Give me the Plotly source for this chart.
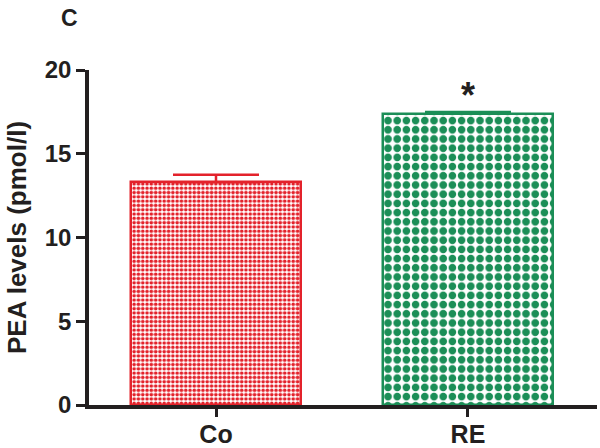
import plotly.graph_objects as go

groups = ["Co", "RE"]
pea_mean = [13.3, 17.4]
pea_err = [0.45, 0.1]
bar_colors = ["#e3222b", "#1b8e57"]
pattern_sizes = [4.3, 9.2]
signif = ["", "*"]

ink = "#231f20"
fam = "Arial, Liberation Sans"

fig = go.Figure()
for i, g in enumerate(groups):
    fig.add_trace(go.Bar(
        x=[g], y=[pea_mean[i]],
        width=0.675,
        marker=dict(
            color="white",
            line=dict(color=bar_colors[i], width=2.5),
            pattern=dict(shape=".", size=pattern_sizes[i], solidity=0.55,
                         fgcolor=bar_colors[i], bgcolor="white", fillmode="replace"),
        ),
        error_y=dict(type="data", symmetric=False, array=[pea_err[i]], arrayminus=[0],
                     color=bar_colors[i], thickness=2.5, width=43),
        showlegend=False,
    ))
    if signif[i]:
        fig.add_annotation(x=g, y=pea_mean[i] + pea_err[i], text=signif[i],
                           showarrow=False, yanchor="bottom", yshift=-6,
                           font=dict(size=36, color=ink, family=fam, weight="bold"))

fig.add_annotation(xref="paper", yref="paper", x=-0.06, y=1.155, text="C",
                   showarrow=False, xanchor="left", yanchor="middle",
                   font=dict(size=23, color=ink, family=fam, weight="bold"))

fig.update_xaxes(range=[-0.504, 1.512], showline=True, linecolor=ink, linewidth=3.5,
                 ticks="outside", ticklen=8, tickwidth=3, tickcolor=ink,
                 showgrid=False, zeroline=False, automargin=False,
                 ticklabelstandoff=-4,
                 tickfont=dict(size=25, color=ink, family=fam, weight="bold"))
fig.update_yaxes(range=[0, 20], tickvals=[0, 5, 10, 15, 20], showline=True,
                 linecolor=ink, linewidth=3.5,
                 ticks="outside", ticklen=9, tickwidth=3, tickcolor=ink,
                 showgrid=False, zeroline=False, automargin=False,
                 tickfont=dict(size=24, color=ink, family=fam, weight="bold"),
                 title=dict(text="PEA levels (pmol/l)", standoff=12,
                            font=dict(size=26, color=ink, family=fam, weight="bold")))
fig.update_layout(
    width=600, height=448,
    margin=dict(l=89, r=3, t=70, b=43),
    paper_bgcolor="white", plot_bgcolor="white",
    font=dict(family=fam, color=ink),
    bargap=0,
)
fig.write_html("out.html", config={"displayModeBar": False},
               post_script="document.body.style.margin='0';")
